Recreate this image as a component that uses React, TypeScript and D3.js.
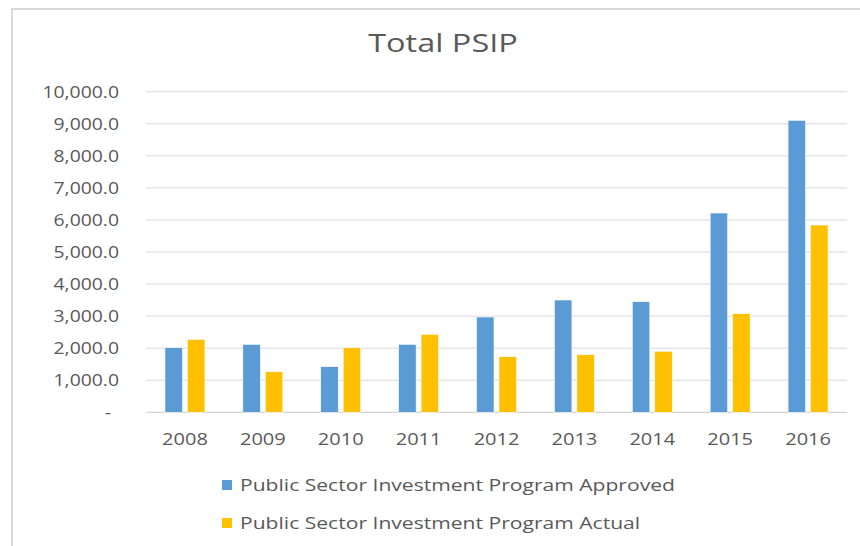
import React from "react";
import * as d3 from "d3";

const years = ["2008", "2009", "2010", "2011", "2012", "2013", "2014", "2015", "2016"];
const approved = [2015, 2121, 1422, 2121, 2973, 3503, 3450, 6216, 9108];
const actual = [2277, 1266, 2015, 2433, 1735, 1797, 1903, 3076, 5842];
const seriesNames = [
  "Public Sector Investment Program Approved",
  "Public Sector Investment Program Actual",
];
const seriesColors = ["#5B9BD5", "#FFC000"];
const yTicks = [0, 1000, 2000, 3000, 4000, 5000, 6000, 7000, 8000, 9000, 10000];
const title = "Total PSIP";

const W = 860;
const H = 546;
const SX = 1.25;
const FONT = "'Open Sans', 'Noto Sans', sans-serif";
const TXT = "#595959";

export default function App() {
  const left = 146;
  const right = 847;
  const top = 91.7;
  const bottom = 412.3;

  const x = d3.scaleBand<string>().domain(years).range([left, right]).paddingInner(0).paddingOuter(0);
  const inner = d3
    .scaleBand<number>()
    .domain([0, 1])
    .range([0, 40])
    .paddingInner(0.22)
    .paddingOuter(0);
  const innerOffset = (x.bandwidth() - 40) / 2;
  const y = d3.scaleLinear().domain([0, 10000]).range([bottom, top]);
  const fmt = d3.format(",.1f");
  const series = [approved, actual];

  return (
    <svg
      width={W}
      height={H}
      style={{ position: "absolute", left: 0, top: 0, background: "#fff" }}
      fontFamily={FONT}
    >
      <rect x={0} y={0} width={W} height={H} fill="#fff" />
      <rect x={12} y={9} width={W + 20} height={H + 20} fill="none" stroke="#d9d9d9" strokeWidth={2} />

      <text
        transform={`translate(443,52) scale(1.3,1)`}
        textAnchor="middle"
        fontSize={25}
        fill={TXT}
      >
        {title}
      </text>

      {yTicks.map((t) => (
        <g key={t}>
          <line
            x1={left}
            x2={right}
            y1={y(t)}
            y2={y(t)}
            stroke={t === 0 ? "#c8c8c8" : "#d9d9d9"}
            strokeWidth={1}
          />
          <text
            transform={`translate(${t === 0 ? 111 : 119},${y(t)}) scale(${SX},1)`}
            textAnchor="end"
            dominantBaseline="central"
            fontSize={15.5}
            fill={TXT}
          >
            {t === 0 ? "-" : fmt(t)}
          </text>
        </g>
      ))}

      {years.map((yr, i) => (
        <g key={yr}>
          {series.map((s, k) => {
            const bx = (x(yr) as number) + innerOffset + (inner(k) as number);
            return (
              <rect
                key={k}
                x={bx}
                y={y(s[i])}
                width={inner.bandwidth()}
                height={y(0) - y(s[i])}
                fill={seriesColors[k]}
                stroke="#fff"
                strokeWidth={0.6}
              />
            );
          })}
          <text
            transform={`translate(${(x(yr) as number) + x.bandwidth() / 2},439) scale(${SX},1)`}
            textAnchor="middle"
            dominantBaseline="central"
            fontSize={16}
            fill={TXT}
          >
            {yr}
          </text>
        </g>
      ))}

      {seriesNames.map((name, k) => (
        <g key={name}>
          <rect x={222} y={480 + k * 38} width={10} height={10} fill={seriesColors[k]} />
          <text
            transform={`translate(240,${485 + k * 38}) scale(1.36,1)`}
            dominantBaseline="central"
            fontSize={15.5}
            fill={TXT}
          >
            {name}
          </text>
        </g>
      ))}
    </svg>
  );
}
